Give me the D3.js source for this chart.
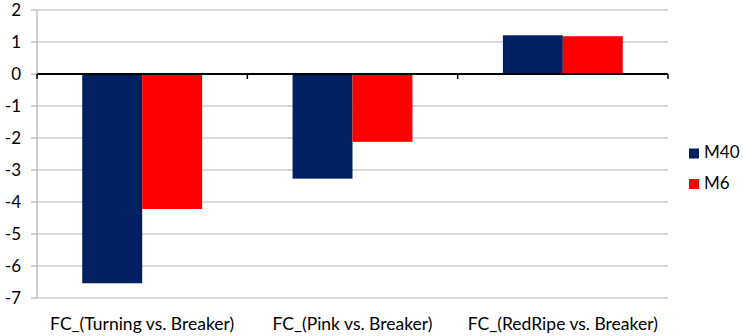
<!DOCTYPE html>
<html><head><meta charset="utf-8">
<script src="https://cdn.jsdelivr.net/npm/d3@7"></script>
<style>body{margin:0;background:#fff}svg{display:block}text{font-family:Lato,"Open Sans",sans-serif;fill:#000}</style>
</head><body><svg id="c" width="743" height="336"></svg>
<script>
const categories = ["FC_(Turning vs. Breaker)", "FC_(Pink vs. Breaker)", "FC_(RedRipe vs. Breaker)"];
const seriesNames = ["M40", "M6"];
const m40 = [-6.54, -3.27, 1.21];
const m6 = [-4.22, -2.12, 1.18];
const colors = ["#002060", "#ff0000"];
const yTicks = [2, 1, 0, -1, -2, -3, -4, -5, -6, -7];

const svg = d3.select("#c");
const L = 37, R = 668, T = 10, B = 298;
const x = d3.scaleBand().domain(categories).range([L, R]).paddingInner(0.43).paddingOuter(0.215);
const xs = d3.scaleBand().domain(seriesNames).range([0, x.bandwidth()]);
const y = d3.scaleLinear().domain([-7, 2]).range([B, T]);

svg.append("g").selectAll("line").data(yTicks).join("line")
  .attr("x1", L).attr("x2", R).attr("y1", d => y(d)).attr("y2", d => y(d))
  .attr("stroke", "#b3b3b3").attr("stroke-width", 1.2);
svg.append("line").attr("x1", L).attr("x2", L).attr("y1", T).attr("y2", B).attr("stroke", "#b3b3b3").attr("stroke-width", 1.2);
svg.append("g").selectAll("line").data(yTicks).join("line")
  .attr("x1", L - 6).attr("x2", L).attr("y1", d => y(d)).attr("y2", d => y(d))
  .attr("stroke", "#b3b3b3").attr("stroke-width", 1.2);
svg.append("g").selectAll("text").data(yTicks).join("text")
  .attr("x", 21).attr("y", d => y(d)).attr("dy", "0.36em").attr("text-anchor", "end")
  .attr("font-size", 17).text(d => d);

const series = [m40, m6];
series.forEach((vals, si) => {
  svg.append("g").selectAll("rect").data(vals).join("rect")
    .attr("x", (d, i) => x(categories[i]) + xs(seriesNames[si]))
    .attr("width", xs.bandwidth())
    .attr("y", d => y(Math.max(0, d)))
    .attr("height", d => Math.abs(y(d) - y(0)))
    .attr("fill", colors[si]);
});

svg.append("line").attr("x1", L).attr("x2", R).attr("y1", y(0)).attr("y2", y(0)).attr("stroke", "#000").attr("stroke-width", 2);
const bounds = categories.map(c => x(c) - x.step() * x.paddingInner() / 2).concat([R]);
svg.append("g").selectAll("line").data(bounds).join("line")
  .attr("x1", d => d).attr("x2", d => d).attr("y1", y(0)).attr("y2", y(0) + 5)
  .attr("stroke", "#000").attr("stroke-width", 1.5);

svg.append("g").selectAll("text").data(categories).join("text")
  .attr("x", d => x(d) + x.bandwidth() / 2).attr("y", 330).attr("text-anchor", "middle")
  .attr("font-size", 17.5).text(d => d);

const lg = svg.append("g");
seriesNames.forEach((n, i) => {
  lg.append("rect").attr("x", 689).attr("y", 148.5 + i * 30.5).attr("width", 10).attr("height", 10).attr("fill", colors[i]);
  lg.append("text").attr("x", 704).attr("y", 158 + i * 30.5).attr("font-size", 17).text(n);
});
</script></body></html>
